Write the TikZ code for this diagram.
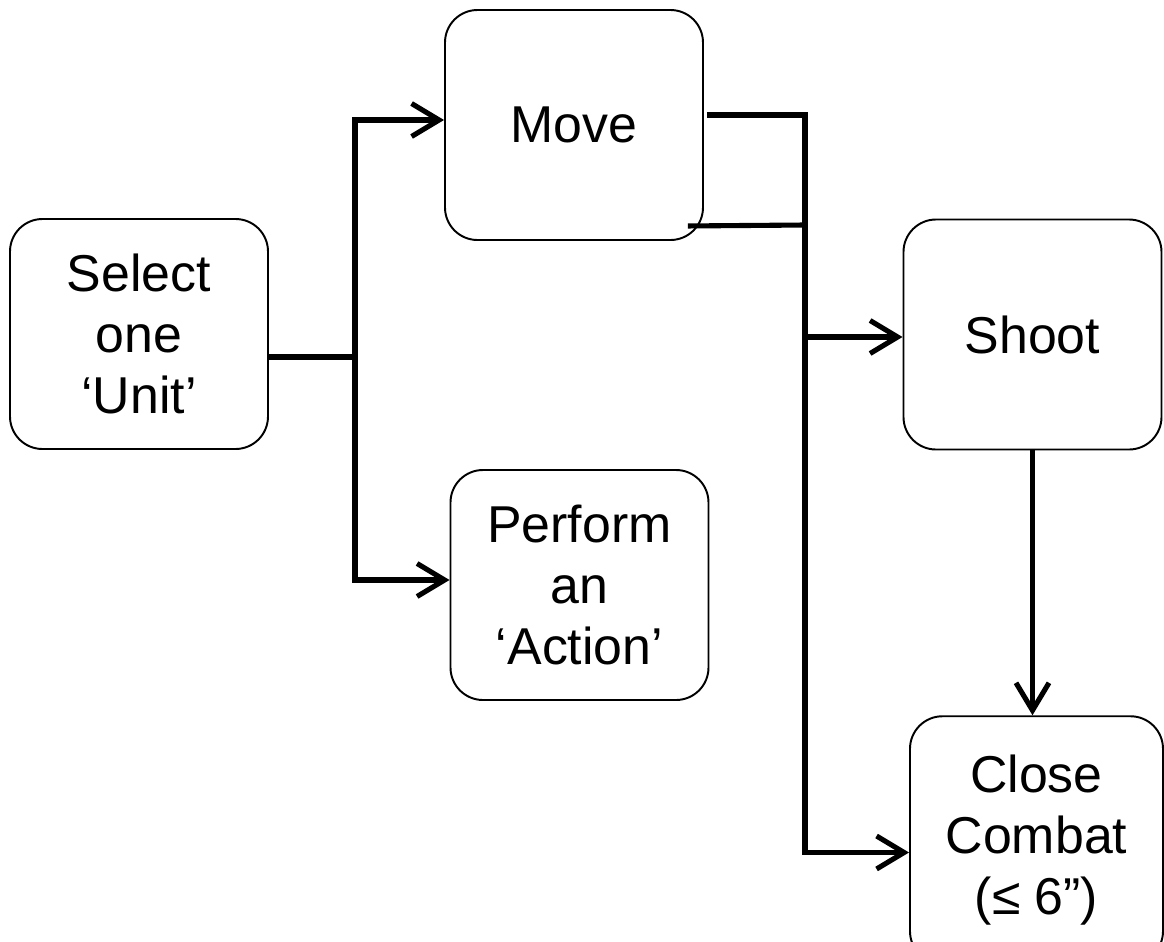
\documentclass[tikz,border=0pt]{standalone}
\usepackage{fontspec}
\setmainfont{Liberation Sans}
\usetikzlibrary{shapes.geometric, arrows.meta}
\tikzstyle{every node}=[font=\fontsize{29.5}{34.7}\selectfont]
\tikzstyle{block} = [rectangle, draw, line width=1.1pt, align=center, minimum width=5.16cm, minimum height=4.6cm, inner sep=0pt, rounded corners=0.65cm]
\tikzstyle{line} = [draw, line width=2.9pt, -{Straight Barb[length=0.55cm, width=0.66cm]}]
\tikzstyle{bar} = [draw, line width=2.9pt]

\begin{document}
\begin{tikzpicture}
    \useasboundingbox (0,0) rectangle (23.28,-18.84);
    % Place nodes
    \node [block] (select) at (2.78,-6.68) {Select\\one\\‘Unit’};
    \node [block] (move) at (11.48,-2.5) {Move};
    \node [block, below of=move, node distance=9.2cm, xshift=0.11cm] (perform) {Perform\\an\\‘Action’};
    \node [block] (shoot) at (20.65,-6.69) {Shoot};
    \node [block, minimum width=5.06cm, minimum height=4.95cm] (close) at (20.73,-16.8) {Close\\Combat\\(≤ 6”)};
    % Junctions
    \coordinate (split) at (7.1,-7.14);
    \coordinate (join) at (16.1,-4.5);
    % Draw edges
    \path [bar, line width=3.6pt] (select.east |- split) -- (split);
    \path [line] (split) |- ([yshift=0.1cm]move.west);
    \path [line] (split) |- ([yshift=0.1cm]perform.west);
    \path [bar] ([xshift=0.06cm,yshift=0.2cm]move.east) -| (join);
    \path [bar] ([xshift=-0.32cm,yshift=0.3cm]move.south east) -- (join);
    \path [line] (join) |- ([yshift=-0.25cm]close.west);
    \path [line] (join) |- ([yshift=-0.05cm]shoot.west);
    \path [line] (shoot.south) -- (shoot.south |- close.north);
\end{tikzpicture}
\end{document}
